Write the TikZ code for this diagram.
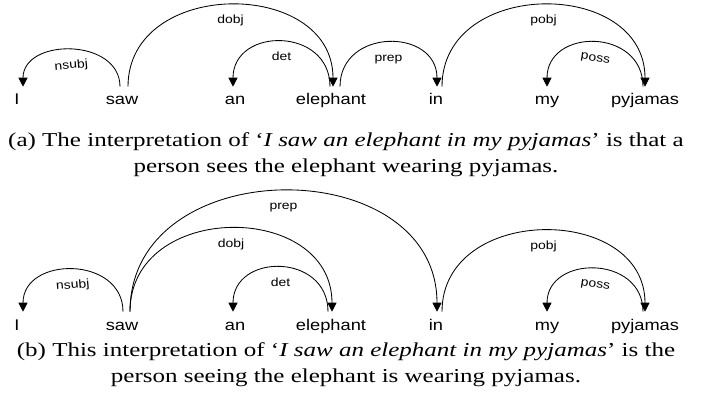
\documentclass[tikz,border=0pt]{standalone}
\usepackage{fontspec}
\setmainfont{Liberation Serif}[FakeStretch=1.27]
\newfontfamily\wordfont{Liberation Sans}[FakeStretch=1.18]
\usetikzlibrary{arrows.meta}

\tikzset{
  word/.style={font=\wordfont\fontsize{11}{13}\selectfont, anchor=base, inner sep=0pt, text height=0.45cm},
  dep/.style={line width=0.6pt, -{Triangle[length=6.4pt, width=6.4pt]}},
  lbl/.style={font=\wordfont\fontsize{8.4}{10}\selectfont, anchor=base, inner sep=0pt, yshift=-0.47cm},
  capt/.style={font=\fontsize{14}{18}\selectfont, align=center, anchor=base}
}

\begin{document}
\begin{tikzpicture}[x=0.025cm, y=0.025cm]
	\useasboundingbox (0,0) rectangle (702,402);
	
	\foreach \d/\y in {a/297, b/72}
		\foreach \w/\x in {I/17, saw/122, an/235, elephant/331, in/436, my/547, pyjamas/645}
			\node[word] (\d-\w) at (\x,\y) {\w};
	
	% (a) elephant wears the pyjamas
	\draw[dep] ([shift={(-2,0)}]a-saw.north) .. controls +(0,49) and +(0,49) .. ([shift={(6,0)}]a-I.north) node[lbl, pos=.5, rotate=5] {nsubj};
	\draw[dep] ([shift={(6,0)}]a-saw.north) .. controls +(0,109) and +(0,109) .. ([shift={(2,0)}]a-elephant.north) node[lbl, pos=.5] {dobj};
	\draw[dep] ([shift={(-1,0)}]a-elephant.north) .. controls +(0,60) and +(0,60) .. ([shift={(-2,0)}]a-an.north) node[lbl, pos=.5] {det};
	\draw[dep] ([shift={(9,0)}]a-elephant.north) .. controls +(0,59) and +(0,59) .. ([shift={(1,0)}]a-in.north) node[lbl, pos=.5] {prep};
	\draw[dep] ([shift={(6,0)}]a-in.north) .. controls +(0,109) and +(0,109) .. (a-pyjamas.north) node[lbl, pos=.5] {pobj};
	\draw[dep] ([shift={(-2,0)}]a-pyjamas.north) .. controls +(0,59) and +(0,59) .. (a-my.north) node[lbl, pos=.5, rotate=-9] {poss};
	\node[capt] (capa) at (346,230) {(a) The interpretation of `\textit{I saw an elephant in my pyjamas}' is that a\\ person sees the elephant wearing pyjamas.};
	
	% (b) person wears the pyjamas
	\draw[dep] ([shift={(1,0)}]b-saw.north) .. controls +(0,56) and +(0,56) .. ([shift={(6,0)}]b-I.north) node[lbl, pos=.5, rotate=5] {nsubj};
	\draw[dep] ([shift={(8,0)}]b-saw.north) .. controls +(0,111) and +(0,111) .. ([shift={(1,0)}]b-elephant.north) node[lbl, pos=.5] {dobj};
	\draw[dep] ([shift={(8,0)}]b-saw.north) .. controls +(0,161) and +(0,161) .. ([shift={(1,0)}]b-in.north) node[lbl, pos=.5] {prep};
	\draw[dep] ([shift={(-3,0)}]b-elephant.north) .. controls +(0,59) and +(0,59) .. ([shift={(-2,0)}]b-an.north) node[lbl, pos=.5] {det};
	\draw[dep] ([shift={(6,0)}]b-in.north) .. controls +(0,108) and +(0,108) .. (b-pyjamas.north) node[lbl, pos=.5] {pobj};
	\draw[dep] ([shift={(-2,0)}]b-pyjamas.north) .. controls +(0,57) and +(0,57) .. (b-my.north) node[lbl, pos=.5, rotate=-9] {poss};
	\node[capt] (capb) at (346,20) {(b) This interpretation of `\textit{I saw an elephant in my pyjamas}' is the\\ person seeing the elephant is wearing pyjamas.};
\end{tikzpicture}
\end{document}
